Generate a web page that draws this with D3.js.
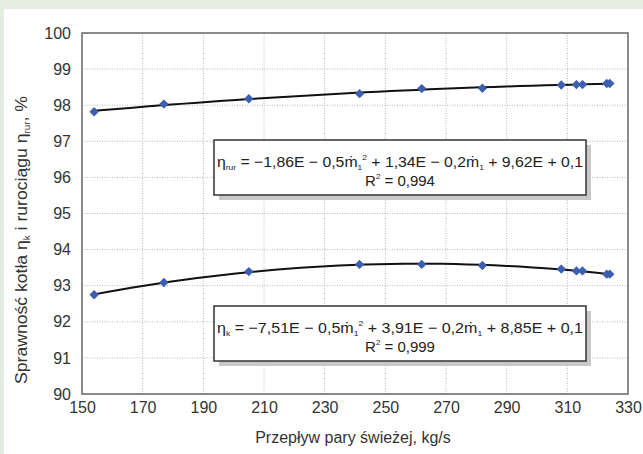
<!DOCTYPE html>
<html>
<head>
<meta charset="utf-8">
<script src="https://cdn.jsdelivr.net/npm/d3@7"></script>
<style>
  body { margin: 0; background: #e3ede0; }
  svg { display: block; font-family: "Liberation Sans", Arial, sans-serif; }
</style>
</head>
<body>
<div id="chart"></div>
<script>
// steam flow, kg/s
var flow = [154, 177, 205, 241.5, 262, 282, 308, 313, 315, 323, 324];
// pipeline efficiency eta_rur, %
var etaRur = [97.82, 98.03, 98.18, 98.32, 98.46, 98.47, 98.56, 98.57, 98.57, 98.6, 98.6];
// boiler efficiency eta_k, %
var etaK = [92.75, 93.09, 93.39, 93.59, 93.59, 93.56, 93.46, 93.41, 93.41, 93.32, 93.32];

var xTicks = [150, 170, 190, 210, 230, 250, 270, 290, 310, 330];
var yTicks = [90, 91, 92, 93, 94, 95, 96, 97, 98, 99, 100];

var w = 643, h = 454;
var pl = 82, pr = 628, pt = 33, pb = 394;

var svg = d3.select('#chart').append('svg')
  .attr('width', w)
  .attr('height', h);

svg.append('rect')
  .attr('x', 4).attr('y', 9)
  .attr('width', w).attr('height', h)
  .attr('fill', '#fff');

var x = d3.scaleLinear().domain([150, 330]).range([pl, pr]);
var y = d3.scaleLinear().domain([90, 100]).range([pb, pt]);

// grid
var grid = svg.append('g');
grid.selectAll('line.gx').data(xTicks.slice(1, -1)).enter().append('line')
  .attr('x1', d => x(d)).attr('x2', d => x(d))
  .attr('y1', pt).attr('y2', pb)
  .attr('stroke', '#b8b8b8').attr('stroke-dasharray', '1,1.5');
grid.selectAll('line.gy').data(yTicks.slice(1, -1)).enter().append('line')
  .attr('x1', pl).attr('x2', pr)
  .attr('y1', d => y(d)).attr('y2', d => y(d))
  .attr('stroke', '#b8b8b8').attr('stroke-dasharray', '1,1.5');

// axes (labels only)
var xAxis = svg.append('g')
  .attr('transform', 'translate(0,' + pb + ')')
  .call(d3.axisBottom(x).tickValues(xTicks).tickSize(0).tickPadding(8));
var yAxis = svg.append('g')
  .attr('transform', 'translate(' + pl + ',0)')
  .call(d3.axisLeft(y).tickValues(yTicks).tickSize(0).tickPadding(11));
[xAxis, yAxis].forEach(function(a) {
  a.select('.domain').remove();
  a.selectAll('text')
    .attr('font-family', '"Liberation Sans", Arial, sans-serif')
    .attr('font-size', 16)
    .attr('fill', '#333');
});

svg.append('rect')
  .attr('x', pl).attr('y', pt)
  .attr('width', pr - pl).attr('height', pb - pt)
  .attr('fill', 'none')
  .attr('stroke', '#666')
  .attr('stroke-width', 1.5);

// quadratic least squares, like the spreadsheet trendline
function quadFit(xs, ys) {
  var s = [0, 0, 0, 0, 0], t = [0, 0, 0];
  xs.forEach(function(xi, i) {
    for (var k = 0; k < 5; k++) s[k] += Math.pow(xi, k);
    for (var k = 0; k < 3; k++) t[k] += ys[i] * Math.pow(xi, k);
  });
  var m = [[s[0], s[1], s[2], t[0]], [s[1], s[2], s[3], t[1]], [s[2], s[3], s[4], t[2]]];
  for (var i = 0; i < 3; i++) {
    for (var j = i + 1; j < 3; j++) {
      var f = m[j][i] / m[i][i];
      for (var k = i; k < 4; k++) m[j][k] -= f * m[i][k];
    }
  }
  var c = [0, 0, 0];
  for (var i = 2; i >= 0; i--) {
    var v = m[i][3];
    for (var k = i + 1; k < 3; k++) v -= m[i][k] * c[k];
    c[i] = v / m[i][i];
  }
  return function(v) { return c[0] + c[1] * v + c[2] * v * v; };
}

var line = d3.line().x(d => x(d[0])).y(d => y(d[1]));
var marker = d3.symbol().type(d3.symbolSquare).size(44);

[etaRur, etaK].forEach(function(series) {
  var f = quadFit(flow, series);
  var lo = d3.min(flow), hi = d3.max(flow);
  var pts = d3.range(0, 41).map(i => { var v = lo + (hi - lo) * i / 40; return [v, f(v)]; });
  svg.append('path')
    .attr('d', line(pts))
    .attr('fill', 'none')
    .attr('stroke', '#111')
    .attr('stroke-width', 2);
  svg.selectAll(null).data(flow).enter().append('path')
    .attr('d', marker)
    .attr('transform', (d, i) => 'translate(' + x(d) + ',' + y(series[i]) + ') rotate(45)')
    .attr('fill', '#3c5fb0');
});

// equation boxes
function eqBox(by, name, a, b, c, r2) {
  var g = svg.append('g');
  g.append('rect')
    .attr('x', 219).attr('y', by + 5)
    .attr('width', 372).attr('height', 55)
    .attr('fill', '#c8c8c8');
  g.append('rect')
    .attr('x', 214).attr('y', by)
    .attr('width', 372).attr('height', 55)
    .attr('fill', '#fff')
    .attr('stroke', '#333')
    .attr('stroke-width', 1.5);
  var t = g.append('text')
    .attr('x', 400).attr('y', by + 27)
    .attr('text-anchor', 'middle')
    .attr('font-size', 15)
    .attr('fill', '#222')
    .attr('textLength', 366)
    .attr('lengthAdjust', 'spacingAndGlyphs');
  t.append('tspan').text('η');
  t.append('tspan').attr('font-size', 8).attr('dy', 3).text(name);
  t.append('tspan').attr('dy', -3).text(' = ' + a + 'ṁ');
  t.append('tspan').attr('font-size', 8).attr('dy', 3).text('1');
  t.append('tspan').attr('font-size', 8).attr('dy', -10).text('2');
  t.append('tspan').attr('dy', 7).text(' + ' + b + 'ṁ');
  t.append('tspan').attr('font-size', 8).attr('dy', 3).text('1');
  t.append('tspan').attr('dy', -3).text(' + ' + c);
  var t2 = g.append('text')
    .attr('x', 400).attr('y', by + 46)
    .attr('text-anchor', 'middle')
    .attr('font-size', 15)
    .attr('fill', '#222');
  t2.append('tspan').text('R');
  t2.append('tspan').attr('font-size', 8).attr('dy', -7).text('2');
  t2.append('tspan').attr('dy', 7).text(' = ' + r2);
}
eqBox(140, 'rur', '−1,86E − 0,5', '1,34E − 0,2', '9,62E + 0,1', '0,994');
eqBox(306, 'k', '−7,51E − 0,5', '3,91E − 0,2', '8,85E + 0,1', '0,999');

// axis titles
svg.append('text')
  .attr('x', 353).attr('y', 443)
  .attr('text-anchor', 'middle')
  .attr('font-size', 16)
  .attr('fill', '#333')
  .text('Przepływ pary świeżej, kg/s');

var yt = svg.append('text')
  .attr('transform', 'translate(27,240) rotate(-90)')
  .attr('text-anchor', 'middle')
  .attr('font-size', 16)
  .attr('fill', '#333')
  .attr('textLength', 288)
  .attr('lengthAdjust', 'spacingAndGlyphs');
yt.append('tspan').text('Sprawność kotła η');
yt.append('tspan').attr('font-size', 9).attr('dy', 3).text('k');
yt.append('tspan').attr('dy', -3).text(' i rurociągu η');
yt.append('tspan').attr('font-size', 9).attr('dy', 3).text('rur');
yt.append('tspan').attr('dy', -3).text(', %');
</script>
</body>
</html>
